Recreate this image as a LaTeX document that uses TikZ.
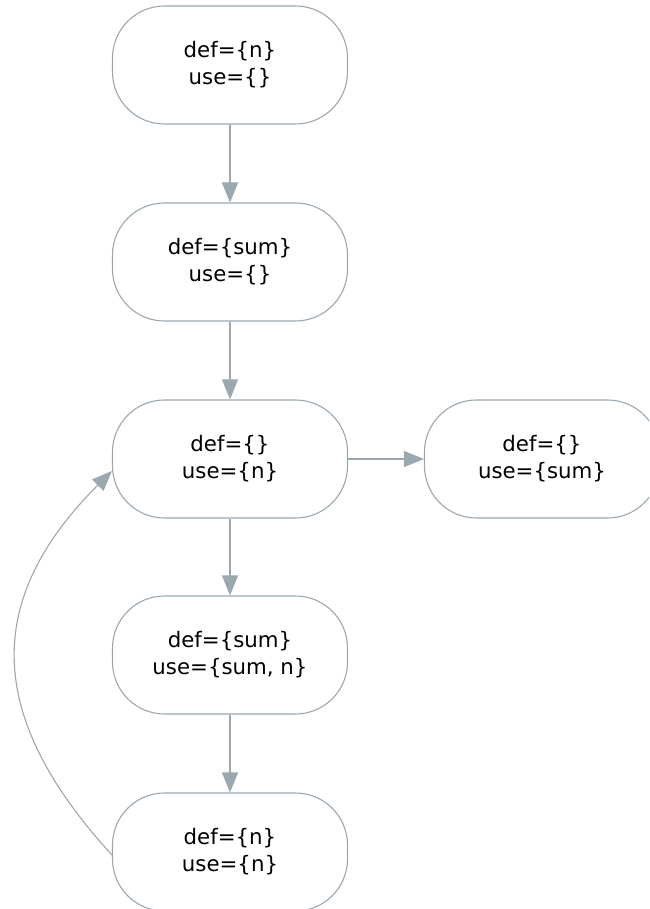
\documentclass[tikz,border=0pt]{standalone}
\usepackage{fontspec}
\setmainfont{DejaVu Sans}
\usetikzlibrary{arrows.meta}
\definecolor{linegray}{RGB}{155,168,176}
\begin{document}
\begin{tikzpicture}[x=1pt,y=-1pt,
  block/.style={draw=linegray, line width=1.1pt, rectangle, rounded corners=52pt,
    minimum width=235pt, minimum height=118pt, align=center,
    font=\fontsize{21.3}{27}\selectfont, fill=white},
  flow/.style={draw=linegray, line width=1.1pt,
    -{Triangle[length=20pt,width=16pt,fill=linegray]}}]
  \useasboundingbox (0,0) rectangle (649,909);
  \clip (0,0) rectangle (649,909);

  \node[block] (n1) at (230,65)  {def=\{n\}\\use=\{\}};
  \node[block] (n2) at (230,262) {def=\{sum\}\\use=\{\}};
  \node[block] (n3) at (230,459) {def=\{\}\\use=\{n\}};
  \node[block] (n4) at (230,655) {def=\{sum\}\\use=\{sum, n\}};
  \node[block] (n5) at (230,852) {def=\{n\}\\use=\{n\}};
  \node[block] (n6) at (542,459) {def=\{\}\\use=\{sum\}};

  \draw[flow] (n1) -- (n2);
  \draw[flow] (n2) -- (n3);
  \draw[flow] (n3) -- (n4);
  \draw[flow] (n4) -- (n5);
  \draw[flow] (n3) -- (n6);
  \draw[flow] ([yshift=-3pt]n5.west) .. controls +(-128,-140) and +(-128,128) .. ([yshift=-12pt]n3.west);
\end{tikzpicture}
\end{document}
